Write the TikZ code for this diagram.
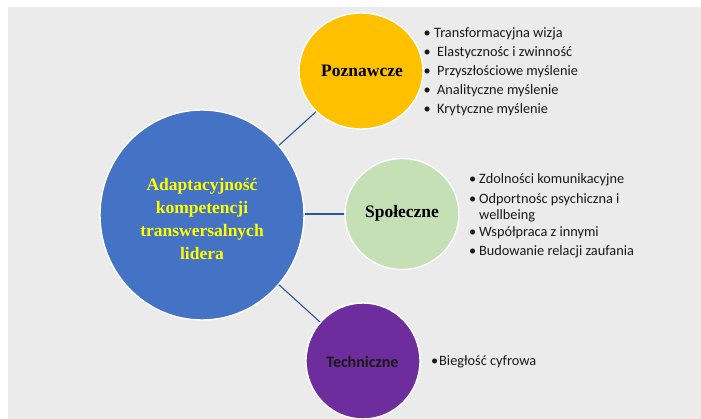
\documentclass[tikz,border=0pt]{standalone}
\usepackage{fontspec}
\setmainfont{Liberation Serif}
\newfontfamily\bodysans{Carlito}
\usetikzlibrary{shapes.geometric}

\definecolor{panelgray}{HTML}{EBEBEB}
\definecolor{hubblue}{HTML}{4472C4}
\definecolor{cogyellow}{HTML}{FFC000}
\definecolor{socgreen}{HTML}{C5E0B4}
\definecolor{techpurple}{HTML}{6D2D9C}
\definecolor{linkblue}{HTML}{2F5597}
\definecolor{labelyellow}{HTML}{FFFF00}

\tikzset{
  blob/.style={ellipse, draw=white, line width=1.4pt, inner sep=0pt},
  hubtext/.style={font=\fontsize{17.5}{22.7}\selectfont\bfseries, text=labelyellow, align=center},
  serifhead/.style={font=\fontsize{17.5}{20}\selectfont\bfseries, text=black},
  sanshead/.style={font=\bodysans\fontsize{16}{19}\selectfont\bfseries, text=black!90},
  item/.style={anchor=base west, inner sep=0pt, font=\bodysans\fontsize{14.3}{19}\selectfont, text=black!90},
  link/.style={draw=linkblue, line width=1.1pt}
}

\newcommand{\bul}[1]{\makebox[#1][l]{\textbullet}}

\begin{document}
\begin{tikzpicture}[x=1pt, y=-1pt]
  % page and grey panel
  \useasboundingbox (0,0) rectangle (701,419);
  \fill[white] (0,0) rectangle (701,419);
  \fill[panelgray] (8,7) rectangle (701,419);

  % circles
  \node[blob, fill=hubblue, minimum width=204pt, minimum height=210pt] (hub) at (202,215) {};
  \node[blob, fill=cogyellow, minimum width=124pt, minimum height=116pt] (cog) at (361,71) {};
  \node[blob, fill=socgreen, minimum width=114pt, minimum height=111pt] (soc) at (402,214) {};
  \node[blob, fill=techpurple, minimum width=114pt, minimum height=116pt] (tech) at (363,361) {};

  % connectors
  \draw[link] (hub) -- (cog);
  \draw[link] (soc.west) -- (soc.west -| hub.east);
  \draw[link] (hub) -- (tech);

  % circle labels
  \node[hubtext] (hublabel) at (202,219) {Adaptacyjność\\kompetencji\\transwersalnych\\lidera};
  \node[serifhead] (coglabel) at (362,71) {Poznawcze};
  \node[serifhead] (soclabel) at (402,213) {Społeczne};
  \node[sanshead] (techlabel) at (362.5,362) {Techniczne};

  % cognitive skills
  \node[item] (c1) at (423.5,37.5) {\bul{10.5pt}Transformacyjna wizja};
  \node[item] (c2) at (423.5,56.5) {\bul{13.5pt}Elastycznośc i zwinność};
  \node[item] (c3) at (423.5,75.5) {\bul{13.5pt}Przyszłościowe myślenie};
  \node[item] (c4) at (423.5,94.5) {\bul{13.5pt}Analityczne myślenie};
  \node[item] (c5) at (423.5,113.5) {\bul{13.5pt}Krytyczne myślenie};

  % social skills
  \node[item] (s1) at (469,184) {\bul{10pt}Zdolności komunikacyjne};
  \node[item] (s2) at (469,203.5) {\bul{10pt}Odportnośc psychiczna i};
  \node[item] (s2b) at (479,219.5) {wellbeing};
  \node[item] (s3) at (469,237) {\bul{10pt}Współpraca z innymi};
  \node[item] (s4) at (469,256) {\bul{10pt}Budowanie relacji zaufania};

  % technical skills
  \node[item] (t1) at (431,366) {\bul{8pt}Biegłość cyfrowa};
\end{tikzpicture}
\end{document}
